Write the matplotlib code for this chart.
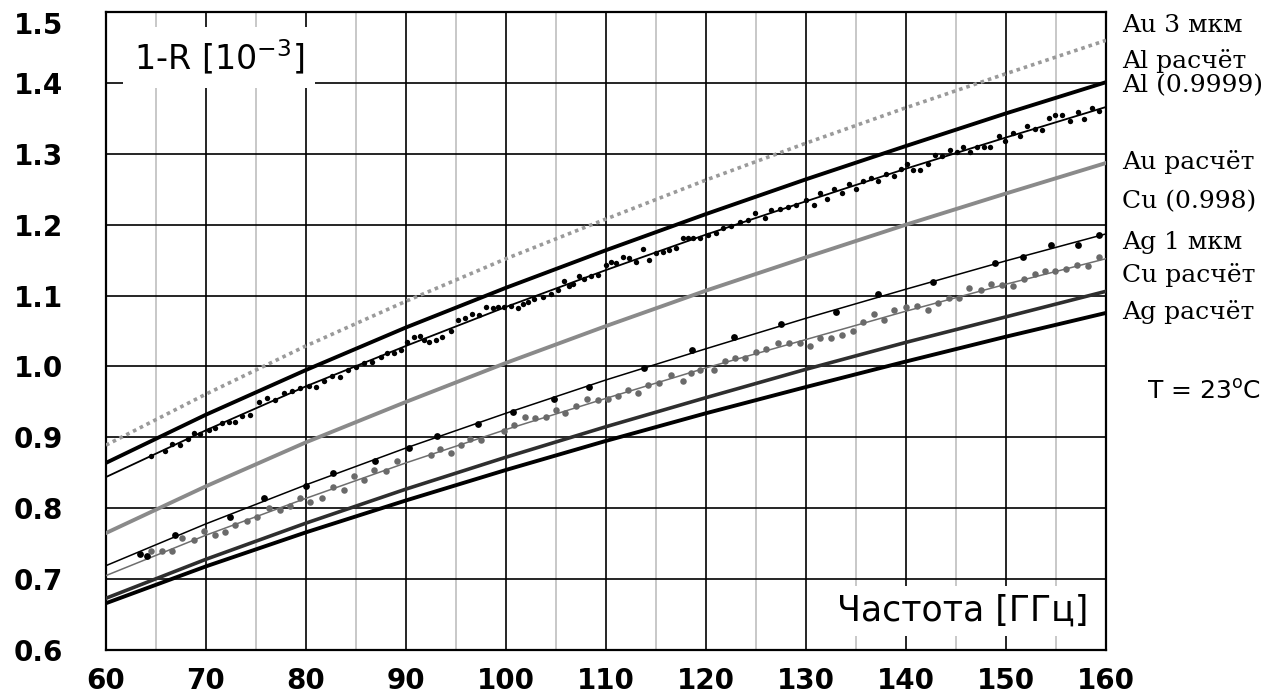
import matplotlib
matplotlib.use("Agg")
import matplotlib.pyplot as plt
from matplotlib.ticker import MultipleLocator

# ---------------- data ----------------
freq = [60, 70, 80, 90, 100, 110, 120, 130, 140, 150, 160]

au3_line = [0.889, 0.961, 1.029, 1.092, 1.152, 1.208, 1.263, 1.315, 1.365, 1.413, 1.460]
al_calc = [0.864, 0.932, 0.995, 1.055, 1.111, 1.164, 1.215, 1.264, 1.311, 1.357, 1.401]
al_fit = [0.844, 0.910, 0.972, 1.029, 1.084, 1.136, 1.186, 1.233, 1.279, 1.323, 1.366]
au_calc = [0.765, 0.831, 0.893, 0.950, 1.005, 1.057, 1.107, 1.154, 1.200, 1.244, 1.287]
ag1_fit = [0.719, 0.778, 0.833, 0.885, 0.934, 0.981, 1.025, 1.068, 1.109, 1.149, 1.187]
cu_fit = [0.705, 0.762, 0.814, 0.864, 0.911, 0.955, 0.998, 1.038, 1.078, 1.116, 1.152]
cu_calc = [0.673, 0.728, 0.779, 0.827, 0.872, 0.915, 0.956, 0.996, 1.034, 1.070, 1.106]
ag_calc = [0.666, 0.718, 0.766, 0.811, 0.854, 0.895, 0.934, 0.971, 1.007, 1.042, 1.0755]

# measured Al (dense black dots)
al_x = [64.48, 65.91, 66.58, 67.41, 68.15, 68.82, 69.42, 70.25, 70.92, 71.59, 72.25, 72.93,
        73.60, 74.43, 75.26, 76.1, 76.9, 77.8, 78.6, 79.4, 80.3, 81.0, 81.8, 82.6, 83.4,
        84.2, 85.0, 85.8, 86.6, 87.45, 88.13, 88.79, 89.46, 90.13, 90.79, 91.39, 91.79,
        92.29, 92.97, 93.64, 94.47, 95.20, 95.87, 96.64, 97.31, 97.98, 98.65, 99.15, 99.81,
        100.48, 101.15, 101.65, 102.15, 102.82, 103.66, 104.49, 105.16, 105.82, 106.32,
        106.66, 107.33, 107.83, 108.50, 109.17, 110.00, 110.50, 111.00, 111.67, 112.34,
        113.01, 113.68, 114.34, 115.01, 115.68, 116.34, 117.01, 117.69, 118.19, 118.69,
        119.35, 120.19, 121.02, 121.69, 122.53, 123.36, 124.20, 124.86, 125.86, 126.53,
        127.37, 128.21, 129.04, 130.04, 130.81, 131.37, 132.14, 132.81, 133.55, 134.28,
        134.95, 135.72, 136.5, 137.22, 138.0, 138.8, 139.5, 140.06, 140.73, 141.39, 142.16,
        142.89, 143.64, 144.40, 145.07, 145.74, 146.40, 147.07, 147.75, 148.41, 149.25,
        149.91, 150.69, 151.36, 152.08, 152.89, 153.55, 154.26, 154.92, 155.62, 156.42,
        157.15, 157.77, 158.57, 159.27]
al_y = [0.874, 0.881, 0.891, 0.889, 0.897, 0.906, 0.905, 0.910, 0.913, 0.920, 0.922, 0.921,
        0.930, 0.932, 0.950, 0.955, 0.953, 0.962, 0.965, 0.969, 0.973, 0.971, 0.980, 0.987,
        0.985, 0.995, 0.999, 1.005, 1.006, 1.013, 1.019, 1.019, 1.023, 1.035, 1.041, 1.043,
        1.038, 1.035, 1.038, 1.041, 1.050, 1.065, 1.068, 1.074, 1.073, 1.084, 1.083, 1.084,
        1.084, 1.085, 1.083, 1.088, 1.091, 1.095, 1.098, 1.102, 1.108, 1.121, 1.113, 1.117,
        1.127, 1.124, 1.128, 1.129, 1.143, 1.148, 1.146, 1.154, 1.153, 1.148, 1.165, 1.150,
        1.160, 1.162, 1.164, 1.167, 1.181, 1.181, 1.181, 1.181, 1.185, 1.188, 1.195, 1.198,
        1.204, 1.207, 1.216, 1.209, 1.220, 1.222, 1.225, 1.228, 1.235, 1.228, 1.245, 1.236,
        1.251, 1.245, 1.258, 1.250, 1.261, 1.266, 1.261, 1.272, 1.268, 1.278, 1.286, 1.277,
        1.277, 1.286, 1.298, 1.297, 1.305, 1.302, 1.310, 1.302, 1.309, 1.309, 1.309, 1.325,
        1.318, 1.330, 1.325, 1.339, 1.335, 1.334, 1.350, 1.355, 1.355, 1.346, 1.359, 1.349,
        1.364, 1.361]

# measured (sparse black dots, lower group)
ag_x = [63.4, 64.1, 66.9, 72.4, 75.8, 80.0, 82.7, 86.9, 90.3, 93.1, 97.2, 100.7, 104.8,
        108.3, 113.8, 118.6, 122.8, 127.5, 133.0, 137.2, 142.7, 148.9, 151.7, 154.5,
        157.2, 159.3]
ag_y = [0.7355, 0.732, 0.762, 0.788, 0.814, 0.8315, 0.849, 0.867, 0.885, 0.902, 0.919,
        0.936, 0.954, 0.9715, 0.9975, 1.023, 1.041, 1.0595, 1.0765, 1.102, 1.1196, 1.146,
        1.154, 1.172, 1.171, 1.186]

# measured (gray dots)
cu_x = [64.48, 65.58, 66.58, 67.59, 68.75, 69.75, 70.92, 71.92, 72.93, 74.10, 75.10, 76.26,
        77.36, 78.37, 79.44, 80.44, 81.61, 82.72, 83.78, 84.78, 85.78, 86.78, 87.96, 89.06,
        92.46, 93.40, 94.47, 95.47, 96.40, 97.47, 99.81, 100.81, 101.88, 102.89, 103.99,
        104.99, 105.89, 106.99, 108.10, 109.17, 110.17, 111.23, 112.24, 113.18, 114.18,
        115.34, 116.51, 117.69, 118.52, 119.35, 120.79, 121.85, 122.86, 123.86, 125.03,
        126.03, 127.21, 128.27, 129.37, 130.37, 131.37, 132.48, 133.55, 134.72, 135.72,
        136.82, 137.83, 138.83, 139.96, 141.06, 142.16, 143.21, 144.32, 145.30, 146.27,
        147.45, 148.51, 149.58, 150.65, 151.75, 152.86, 153.86, 154.92, 155.99, 157.09,
        158.20, 159.27]
cu_y = [0.740, 0.739, 0.740, 0.758, 0.755, 0.768, 0.762, 0.767, 0.777, 0.782, 0.788, 0.801,
        0.798, 0.803, 0.814, 0.809, 0.814, 0.830, 0.826, 0.846, 0.840, 0.854, 0.853, 0.867,
        0.875, 0.883, 0.878, 0.889, 0.897, 0.896, 0.909, 0.918, 0.928, 0.927, 0.929, 0.939,
        0.934, 0.944, 0.954, 0.953, 0.954, 0.958, 0.967, 0.962, 0.974, 0.976, 0.988, 0.979,
        0.991, 0.995, 0.995, 1.007, 1.012, 1.012, 1.021, 1.024, 1.033, 1.033, 1.033, 1.029,
        1.040, 1.040, 1.044, 1.050, 1.062, 1.074, 1.066, 1.080, 1.084, 1.085, 1.080, 1.089,
        1.096, 1.096, 1.110, 1.108, 1.117, 1.115, 1.113, 1.123, 1.130, 1.134, 1.134, 1.137,
        1.143, 1.142, 1.154]

right_labels = ["Au 3 мкм", "Al расчёт", "Al (0.9999)", "Au расчёт", "Cu (0.998)",
                "Ag 1 мкм", "Cu расчёт", "Ag расчёт"]
x_ticks = [60, 70, 80, 90, 100, 110, 120, 130, 140, 150, 160]
y_ticks = [0.6, 0.7, 0.8, 0.9, 1.0, 1.1, 1.2, 1.3, 1.4, 1.5]

# ---------------- figure ----------------
W, H = 1288, 698
fig = plt.figure(figsize=(W / 100, H / 100), dpi=100)
ax = fig.add_axes([106 / W, 1 - 650 / H, 1000 / W, 638 / H])

ax.set_xlim(60, 160)
ax.set_ylim(0.6, 1.5)
ax.set_xticks(x_ticks)
ax.set_yticks(y_ticks)
ax.set_xticklabels([str(v) for v in x_ticks])
ax.set_yticklabels([f"{v:.1f}" for v in y_ticks])
ax.xaxis.set_minor_locator(MultipleLocator(5))

ax.grid(which="minor", axis="x", color="#c4c4c4", lw=1.3, zorder=0)
ax.grid(which="major", axis="both", color="black", lw=1.2, zorder=0)
ax.set_axisbelow(True)
for s in ax.spines.values():
    s.set_linewidth(1.6)
    s.set_color("black")

ax.tick_params(which="both", length=0)
ax.tick_params(axis="y", pad=31)
ax.tick_params(axis="x", pad=12)
for lab in ax.get_xticklabels() + ax.get_yticklabels():
    lab.set_fontfamily("DejaVu Sans")
    lab.set_fontweight("bold")
    lab.set_fontsize(20)
ylabs = ax.get_yticklabels()
for lab in ylabs:
    lab.set_horizontalalignment("right")
ylabs[-1].set_verticalalignment("top")

# lines
ax.plot(freq, au3_line, color="#9a9a9a", lw=2.6, ls=(0, (1.0, 1.1)), zorder=3)
ax.plot(freq, al_calc, color="black", lw=2.8, zorder=3)
ax.plot(freq, al_fit, color="black", lw=1.3, zorder=3)
ax.plot(freq, au_calc, color="#8a8a8a", lw=2.8, zorder=3)
ax.plot(freq, ag1_fit, color="black", lw=1.1, zorder=3)
ax.plot(freq, cu_fit, color="#6e6e6e", lw=1.1, zorder=3)
ax.plot(freq, cu_calc, color="#2e2e2e", lw=2.6, zorder=3)
ax.plot(freq, ag_calc, color="black", lw=2.8, zorder=3)

# points
ax.scatter(al_x, al_y, s=15, color="black", zorder=4, linewidths=0)
ax.scatter(ag_x, ag_y, s=24, color="black", zorder=4, linewidths=0)
ax.scatter(cu_x, cu_y, s=22, color="#6a6a6a", zorder=4, linewidths=0)

# in-plot captions
ax.text(62.8, 1.436, "1-R [10$^{\\mathregular{-3}}$]", fontsize=24, family="DejaVu Sans",
        ha="left", va="center", zorder=6,
        bbox=dict(facecolor="white", edgecolor="none", pad=8))
ax.text(158.2, 0.655, "Частота [ГГц]", fontsize=25, family="DejaVu Sans",
        ha="right", va="center", zorder=6,
        bbox=dict(facecolor="white", edgecolor="none", pad=6))

# right-side labels
label_py = [25, 61, 86, 162, 202, 242, 275, 312]
for txt, py in zip(right_labels, label_py):
    fig.text(1122 / W, 1 - py / H, txt, fontsize=18, family="DejaVu Serif",
             ha="left", va="center")
fig.text(1147 / W, 1 - 392 / H, "T = 23$^{\\mathregular{o}}$C", fontsize=18,
         family="DejaVu Sans", ha="left", va="center")

fig.savefig("out.png", dpi=100, facecolor="white")
